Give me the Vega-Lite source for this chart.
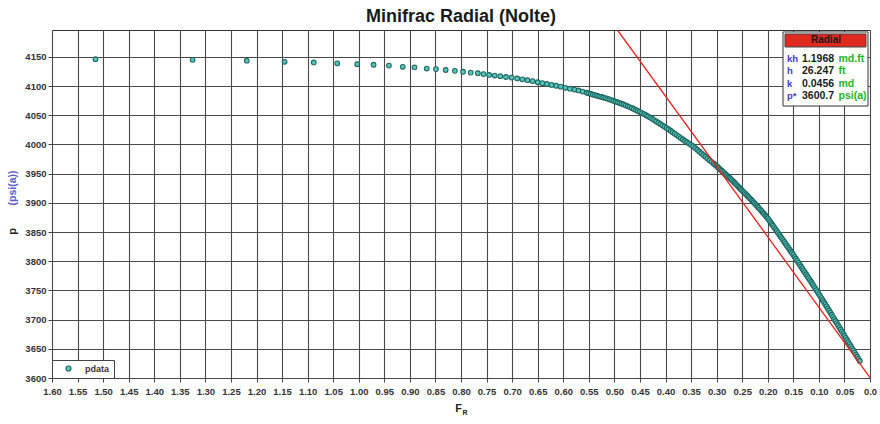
{
  "$schema": "https://vega.github.io/schema/vega-lite/v6.json",
  "width": 818,
  "height": 348,
  "autosize": {"type": "none"},
  "padding": {"left": 52, "top": 30, "right": 10, "bottom": 46},
  "background": "white",
  "title": {"text": "Minifrac Radial (Nolte)", "fontSize": 18, "font": "Liberation Sans", "fontWeight": "bold", "color": "#1a1a1a", "anchor": "middle", "offset": 4},
  "config": {
    "font": "Liberation Sans",
    "view": {"stroke": "#333333", "strokeWidth": 1}
  },
  "datasets": {
    "pts": [
      {"FR":1.515,"p":4146},{"FR":1.325,"p":4145},{"FR":1.219,"p":4143.5},{"FR":1.145,"p":4141.5},{"FR":1.088,"p":4140.5},{"FR":1.042,"p":4139},{"FR":1.003,"p":4137.5},{"FR":0.971,"p":4136.5},{"FR":0.941,"p":4135},{"FR":0.914,"p":4133},{"FR":0.891,"p":4132},{"FR":0.867,"p":4130},{"FR":0.849,"p":4129},{"FR":0.83,"p":4127.5},{"FR":0.812,"p":4126},{"FR":0.796,"p":4124.5},{"FR":0.781,"p":4123},{"FR":0.767,"p":4122},
      {"FR":0.756,"p":4120.5},{"FR":0.745,"p":4119},{"FR":0.734,"p":4118},{"FR":0.723,"p":4117},{"FR":0.712,"p":4115.5},{"FR":0.701,"p":4114.5},{"FR":0.69,"p":4113},{"FR":0.68,"p":4111.5},{"FR":0.67,"p":4110},{"FR":0.66,"p":4108.5},{"FR":0.65,"p":4106.5},{"FR":0.641,"p":4105},{"FR":0.632,"p":4103.5},{"FR":0.623,"p":4102},{"FR":0.614,"p":4100.5},{"FR":0.605,"p":4099},{"FR":0.596,"p":4097},{"FR":0.587,"p":4095.5},{"FR":0.578,"p":4094},{"FR":0.57,"p":4092.5},{"FR":0.562,"p":4090.5},{"FR":0.554,"p":4088.5},
      {"FR":0.55,"p":4087.5},{"FR":0.546,"p":4086.5},{"FR":0.542,"p":4085.5},{"FR":0.538,"p":4084.5},{"FR":0.534,"p":4083.5},{"FR":0.53,"p":4082.5},{"FR":0.526,"p":4081.5},{"FR":0.522,"p":4080.5},{"FR":0.518,"p":4079.5},{"FR":0.514,"p":4078.5},{"FR":0.51,"p":4077.3},{"FR":0.506,"p":4076},{"FR":0.502,"p":4074.8},{"FR":0.498,"p":4073.5},{"FR":0.494,"p":4072.3},{"FR":0.49,"p":4071},{"FR":0.486,"p":4069.8},{"FR":0.482,"p":4068.5},{"FR":0.478,"p":4067},{"FR":0.474,"p":4065.5},{"FR":0.47,"p":4064},{"FR":0.466,"p":4062.5},{"FR":0.462,"p":4060.8},{"FR":0.458,"p":4059},{"FR":0.454,"p":4057.3},{"FR":0.45,"p":4055.5},{"FR":0.446,"p":4053.8},{"FR":0.442,"p":4052},{"FR":0.438,"p":4050},{"FR":0.434,"p":4048},{"FR":0.43,"p":4046},{"FR":0.426,"p":4044},{"FR":0.422,"p":4041.8},{"FR":0.418,"p":4039.5},{"FR":0.414,"p":4037.3},{"FR":0.41,"p":4035},{"FR":0.406,"p":4032.8},{"FR":0.402,"p":4030.5},{"FR":0.398,"p":4028.3},{"FR":0.394,"p":4026},{"FR":0.39,"p":4023.5},{"FR":0.386,"p":4021},{"FR":0.382,"p":4018.5},{"FR":0.378,"p":4016},{"FR":0.374,"p":4013.5},{"FR":0.37,"p":4011},{"FR":0.366,"p":4008.5},{"FR":0.362,"p":4006},{"FR":0.358,"p":4003.8},{"FR":0.354,"p":4001.5},{"FR":0.35,"p":3999.3},{"FR":0.346,"p":3997},{"FR":0.342,"p":3994},{"FR":0.338,"p":3991},{"FR":0.334,"p":3988},{"FR":0.33,"p":3985},{"FR":0.326,"p":3982},{"FR":0.322,"p":3979},{"FR":0.318,"p":3976},{"FR":0.314,"p":3973},{"FR":0.31,"p":3970.3},{"FR":0.306,"p":3967.5},{"FR":0.303,"p":3965.3},
      {"FR":0.3,"p":3963},{"FR":0.2975,"p":3961},{"FR":0.295,"p":3959},{"FR":0.2925,"p":3957},{"FR":0.29,"p":3955},{"FR":0.2875,"p":3953},{"FR":0.285,"p":3951},{"FR":0.2825,"p":3949},{"FR":0.28,"p":3947},{"FR":0.2775,"p":3945},{"FR":0.275,"p":3943},{"FR":0.2725,"p":3941},{"FR":0.27,"p":3939},{"FR":0.2675,"p":3936.8},{"FR":0.265,"p":3934.5},{"FR":0.2625,"p":3932.3},{"FR":0.26,"p":3930},{"FR":0.2575,"p":3927.8},{"FR":0.255,"p":3925.5},{"FR":0.2525,"p":3923.3},{"FR":0.25,"p":3921},{"FR":0.2475,"p":3918.9},{"FR":0.245,"p":3916.7},{"FR":0.2425,"p":3914.5},{"FR":0.24,"p":3912.3},{"FR":0.2375,"p":3910.1},{"FR":0.235,"p":3907.8},{"FR":0.2325,"p":3905.5},{"FR":0.23,"p":3903.2},{"FR":0.2275,"p":3900.9},{"FR":0.225,"p":3898.5},{"FR":0.2225,"p":3896.1},{"FR":0.22,"p":3893.7},{"FR":0.2175,"p":3891.3},{"FR":0.215,"p":3888.8},{"FR":0.2125,"p":3886.3},{"FR":0.21,"p":3883.8},{"FR":0.2075,"p":3881.3},{"FR":0.205,"p":3878.8},{"FR":0.2025,"p":3876.2},{"FR":0.2,"p":3873.6},{"FR":0.1975,"p":3870.5},{"FR":0.195,"p":3867.4},{"FR":0.1925,"p":3864.3},{"FR":0.19,"p":3861.2},{"FR":0.1875,"p":3858.1},{"FR":0.185,"p":3855},{"FR":0.1825,"p":3851.9},{"FR":0.18,"p":3848.7},{"FR":0.1775,"p":3845.6},{"FR":0.175,"p":3842.4},{"FR":0.1725,"p":3839.3},{"FR":0.17,"p":3836.1},{"FR":0.1675,"p":3833},{"FR":0.165,"p":3829.8},{"FR":0.1625,"p":3826.7},{"FR":0.16,"p":3823.5},{"FR":0.1575,"p":3820.4},{"FR":0.155,"p":3817.2},{"FR":0.1525,"p":3814.1},{"FR":0.15,"p":3810.9},{"FR":0.1475,"p":3807.6},{"FR":0.145,"p":3804.3},{"FR":0.1425,"p":3801},{"FR":0.14,"p":3797.6},{"FR":0.1375,"p":3794.3},{"FR":0.135,"p":3791},{"FR":0.1325,"p":3787.7},{"FR":0.13,"p":3784.3},{"FR":0.1275,"p":3781},{"FR":0.125,"p":3777.7},{"FR":0.1225,"p":3774.4},{"FR":0.12,"p":3771},{"FR":0.1175,"p":3767.7},{"FR":0.115,"p":3764.4},{"FR":0.1125,"p":3761},{"FR":0.11,"p":3757.5},{"FR":0.1075,"p":3754.1},{"FR":0.105,"p":3750.6},{"FR":0.1025,"p":3747.2},{"FR":0.1,"p":3743.7},{"FR":0.0975,"p":3740.3},{"FR":0.095,"p":3736.8},{"FR":0.0925,"p":3733.3},{"FR":0.09,"p":3729.8},{"FR":0.0875,"p":3726.3},{"FR":0.085,"p":3722.7},{"FR":0.0825,"p":3719.2},{"FR":0.08,"p":3715.6},{"FR":0.0775,"p":3712},{"FR":0.075,"p":3708.4},{"FR":0.0725,"p":3704.8},{"FR":0.07,"p":3701.2},{"FR":0.0675,"p":3697.6},{"FR":0.065,"p":3694},{"FR":0.0625,"p":3690.4},{"FR":0.06,"p":3686.8},{"FR":0.0575,"p":3683.2},{"FR":0.055,"p":3679.6},{"FR":0.0525,"p":3676},{"FR":0.05,"p":3672.4},{"FR":0.0475,"p":3668.8},{"FR":0.045,"p":3665.2},{"FR":0.0425,"p":3661.6},{"FR":0.04,"p":3658},{"FR":0.0375,"p":3654.4},{"FR":0.035,"p":3650.8},{"FR":0.0325,"p":3647.2},{"FR":0.03,"p":3643.6},{"FR":0.0275,"p":3640},{"FR":0.025,"p":3636.4},{"FR":0.0225,"p":3632.8},{"FR":0.02,"p":3629.2}
    ],
    "radial": [
      {"FR":0,"p":3600.7},{"FR":0.494,"p":4196}
    ],
    "table": [
      {"key":"kh","val":"1.1968","unit":"md.ft","row":1},
      {"key":"h","val":"26.247","unit":"ft","row":2},
      {"key":"k","val":"0.0456","unit":"md","row":3},
      {"key":"p*","val":"3600.7","unit":"psi(a)","row":4}
    ],
    "head": [{"label":"Radial"}]
  },
  "layer": [
    {
      "data": {"name": "pts"},
      "mark": {"type": "circle", "size": 22, "stroke": "#1f6660", "strokeWidth": 1.1, "opacity": 1},
      "encoding": {
        "x": {"field": "FR", "type": "quantitative",
          "scale": {"domain": [0, 1.6], "reverse": true, "nice": false, "zero": false},
          "axis": {"values": [0,0.05,0.1,0.15,0.2,0.25,0.3,0.35,0.4,0.45,0.5,0.55,0.6,0.65,0.7,0.75,0.8,0.85,0.9,0.95,1,1.05,1.1,1.15,1.2,1.25,1.3,1.35,1.4,1.45,1.5,1.55,1.6],
            "labelExpr": "datum.value == 0 ? '0.0' : format(datum.value, '.2f')",
            "labelFlush": false, "labelOverlap": false, "labelFontSize": 9.5, "labelFontWeight": "bold", "labelColor": "#333333", "labelPadding": 4,
            "tickSize": 4, "tickColor": "#444444", "domain": false,
            "grid": true, "gridColor": "#4a4a4a", "gridWidth": 1.1, "gridOpacity": 1,
            "title": "F", "titleX": 406, "titleY": 30, "titleFontSize": 11, "titleFontWeight": "bold", "titleColor": "#222222", "titleAlign": "center", "titleBaseline": "middle"}},
        "y": {"field": "p", "type": "quantitative",
          "scale": {"domain": [3600, 4196], "nice": false, "zero": false},
          "axis": {"values": [3600,3650,3700,3750,3800,3850,3900,3950,4000,4050,4100,4150], "format": "d",
            "labelFontSize": 9.5, "labelFontWeight": "bold", "labelColor": "#333333", "labelPadding": 2,
            "tickSize": 4, "tickColor": "#444444", "domain": false,
            "grid": true, "gridColor": "#4a4a4a", "gridWidth": 1.1, "gridOpacity": 1,
            "title": "p", "titleX": -40, "titleY": 201, "titleFontSize": 11, "titleFontWeight": "bold", "titleColor": "#222222", "titleAlign": "center", "titleBaseline": "middle"}},
        "color": {"datum": "pdata", "type": "nominal",
          "scale": {"range": ["#55c6bb"]},
          "legend": {"orient": "bottom-left", "offset": 0, "title": null, "fillColor": "white", "strokeColor": "#444444", "padding": 4,
            "symbolType": "circle", "symbolSize": 26, "symbolStrokeColor": "#1f6660", "symbolStrokeWidth": 1.1, "symbolOffset": 8,
            "labelFontSize": 9, "labelFontWeight": "bold", "labelColor": "#333344", "labelOffset": 12}}
      }
    },
    {
      "data": {"name": "radial"},
      "mark": {"type": "line", "color": "#e8231f", "strokeWidth": 1.3, "clip": true},
      "encoding": {
        "x": {"field": "FR", "type": "quantitative",
          "axis": {"orient": "bottom", "labels": false, "ticks": false, "domain": false, "grid": false,
            "title": "R", "titleX": 412.5, "titleY": 34, "titleFontSize": 7, "titleFontWeight": "bold", "titleColor": "#222222", "titleAlign": "center", "titleBaseline": "middle"}},
        "y": {"field": "p", "type": "quantitative",
          "scale": {"domain": [3600, 4196], "nice": false, "zero": false},
          "axis": {"orient": "left", "labels": false, "ticks": false, "domain": false, "grid": false,
            "title": "(psi(a))", "titleX": -40, "titleY": 157.5, "titleFontSize": 10.5, "titleFontWeight": "bold", "titleColor": "#5c5cd0", "titleAlign": "center", "titleBaseline": "middle"}}
      }
    },
    {
      "data": {"name": "head"},
      "mark": {"type": "rect", "fill": "white", "stroke": "#333333", "strokeWidth": 1},
      "encoding": {
        "x": {"datum": 0.1702, "type": "quantitative", "axis": null},
        "x2": {"datum": 0.0039},
        "y": {"datum": -1.18, "type": "quantitative", "scale": {"domain": [-1.34, 26.72], "reverse": true, "nice": false, "zero": false}, "axis": null},
        "y2": {"datum": 4.79}
      }
    },
    {
      "data": {"name": "head"},
      "mark": {"type": "rect", "fill": "#e02a20", "stroke": "#444444", "strokeWidth": 1},
      "encoding": {
        "x": {"datum": 0.1663, "type": "quantitative", "axis": null},
        "x2": {"datum": 0.0078},
        "y": {"datum": -1.02, "type": "quantitative", "scale": {"domain": [-1.34, 26.72], "reverse": true, "nice": false, "zero": false}, "axis": null},
        "y2": {"datum": 0.03}
      }
    },
    {
      "data": {"name": "head"},
      "mark": {"type": "text", "fontSize": 10, "fontWeight": "bold", "color": "#1a1a1a", "align": "center", "baseline": "middle"},
      "encoding": {
        "x": {"datum": 0.0861, "type": "quantitative", "axis": null},
        "y": {"datum": -0.5, "type": "quantitative", "scale": {"domain": [-1.34, 26.72], "reverse": true, "nice": false, "zero": false}, "axis": null},
        "text": {"field": "label"}
      }
    },
    {
      "data": {"name": "table"},
      "mark": {"type": "text", "fontSize": 9.5, "fontWeight": "bold", "color": "#4040c0", "align": "left", "baseline": "middle"},
      "encoding": {
        "x": {"datum": 0.1623, "type": "quantitative", "axis": null},
        "y": {"field": "row", "type": "quantitative", "scale": {"domain": [-1.34, 26.72], "reverse": true, "nice": false, "zero": false}, "axis": null},
        "text": {"field": "key"}
      }
    },
    {
      "data": {"name": "table"},
      "mark": {"type": "text", "fontSize": 10.5, "fontWeight": "bold", "color": "#1a1a1a", "align": "left", "baseline": "middle"},
      "encoding": {
        "x": {"datum": 0.1331, "type": "quantitative", "axis": null},
        "y": {"field": "row", "type": "quantitative", "scale": {"domain": [-1.34, 26.72], "reverse": true, "nice": false, "zero": false}, "axis": null},
        "text": {"field": "val"}
      }
    },
    {
      "data": {"name": "table"},
      "mark": {"type": "text", "fontSize": 10.5, "fontWeight": "bold", "color": "#22b422", "align": "left", "baseline": "middle"},
      "encoding": {
        "x": {"datum": 0.0616, "type": "quantitative", "axis": null},
        "y": {"field": "row", "type": "quantitative", "scale": {"domain": [-1.34, 26.72], "reverse": true, "nice": false, "zero": false}, "axis": null},
        "text": {"field": "unit"}
      }
    }
  ],
  "resolve": {"scale": {"y": "independent"}, "axis": {"x": "independent", "y": "independent"}}
}
